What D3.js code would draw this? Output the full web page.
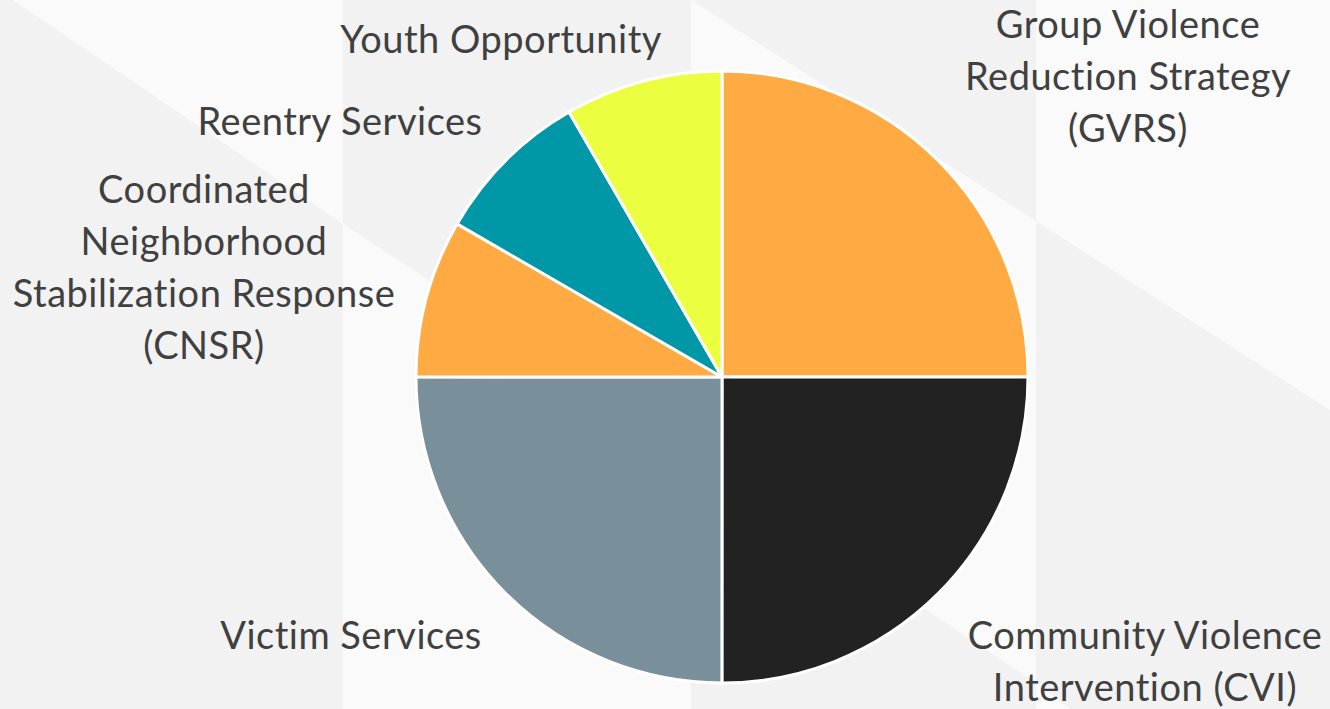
<!DOCTYPE html>
<html>
<head>
<meta charset="utf-8">
<script src="https://cdn.jsdelivr.net/npm/d3@7"></script>
<style>
  html, body { margin: 0; padding: 0; background: #f2f2f2; }
  svg { display: block; }
</style>
</head>
<body>
<div id="chart"></div>
<script>
// slices, clockwise from 12 o'clock
var categories = ["Group Violence Reduction Strategy (GVRS)", "Community Violence Intervention (CVI)",
    "Victim Services", "Coordinated Neighborhood Stabilization Response (CNSR)",
    "Reentry Services", "Youth Opportunity"];
var shares = [25, 25, 25, 8.33, 8.33, 8.33];
var labelLines = [
    ["Group Violence", "Reduction Strategy", "(GVRS)"],
    ["Community Violence", "Intervention (CVI)"],
    ["Victim Services"],
    ["Coordinated", "Neighborhood", "Stabilization Response", "(CNSR)"],
    ["Reentry Services"],
    ["Youth Opportunity"]
];
var sliceColors = ["#FFAA42", "#222222", "#798F9A", "#FFAA42", "#0097A7", "#EBFF40"];

// where excel put the labels (centre x, first baseline)
var labelAt = [[1128, 38], [1145, 649], [351, 649], [204, 203], [340, 135], [501, 53]];

var width = 1330, height = 709,
    cx = 722, cy = 377, radius = 306,
    lineH = 52;

var svg = d3.select("#chart").append("svg")
    .attr("width", width)
    .attr("height", height);

// slide background: grey with lighter diagonal panels
var bg = svg.append("g");
bg.append("rect").attr("width", width).attr("height", height).attr("fill", "#f2f2f2");
var panels = [
    [[13, 0], [343, 0], [343, 224]],
    [[343, 224], [691, 452], [691, 709], [343, 709]],
    [[691, 0], [1036, 221], [1036, 683], [691, 452]],
    [[1036, 0], [1330, 0], [1330, 410], [1036, 221]],
    [[1036, 683], [1071, 709], [1036, 709]]
];
bg.selectAll("polygon")
    .data(panels)
    .enter().append("polygon")
    .attr("points", function(d) { return d.map(function(p) { return p.join(","); }).join(" "); })
    .attr("fill", "#fafafa");

var pie = d3.pie().sort(null).value(function(d) { return d; });
var arc = d3.arc().innerRadius(0).outerRadius(radius);

var g = svg.append("g")
    .attr("transform", "translate(" + cx + "," + cy + ")");

g.selectAll("path")
    .data(pie(shares))
    .enter().append("path")
    .attr("d", arc)
    .attr("fill", function(d, i) { return sliceColors[i]; })
    .attr("stroke", "#ffffff")
    .attr("stroke-width", 3)
    .attr("stroke-linejoin", "round");

var labels = svg.append("g")
    .attr("font-family", "Lato, 'Open Sans', sans-serif")
    .attr("font-size", 38)
    .attr("letter-spacing", 0.5)
    .attr("fill", "#404040")
    .attr("text-anchor", "middle");

labels.selectAll("text")
    .data(categories)
    .enter().append("text")
    .attr("x", function(d, i) { return labelAt[i][0]; })
    .attr("y", function(d, i) { return labelAt[i][1]; })
    .each(function(d, i) {
        var t = d3.select(this);
        labelLines[i].forEach(function(line, k) {
            t.append("tspan")
                .attr("x", labelAt[i][0])
                .attr("dy", k === 0 ? 0 : lineH)
                .text(line);
        });
    });
</script>
</body>
</html>
